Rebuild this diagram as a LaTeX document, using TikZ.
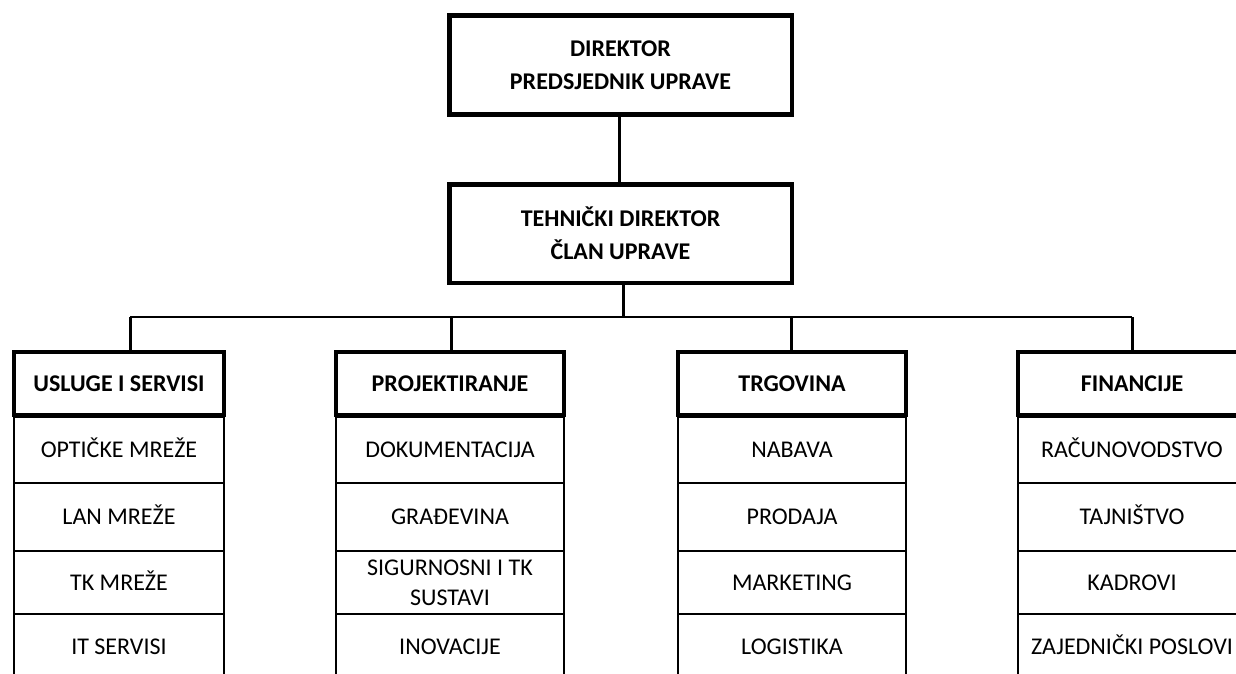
\documentclass[tikz,border=0pt]{standalone}
\usepackage{fontspec}
\setmainfont{Carlito}
\begin{document}
\begin{tikzpicture}[x=1pt,y=-1pt,
  box/.style={draw, line width=4.5pt, minimum width=342.5pt, minimum height=99pt, align=center, inner sep=0pt, font=\bfseries\fontsize{24}{33}\selectfont},
  head/.style={draw, line width=4pt, minimum height=63pt, inner sep=0pt, text height=15pt, text depth=0pt, font=\bfseries\fontsize{24}{30}\selectfont},
  cell/.style={draw, line width=1.4pt, inner sep=0pt, text height=15pt, text depth=0pt, font=\fontsize{24}{30}\selectfont},
  cellm/.style={draw, line width=1.4pt, inner sep=0pt, align=center, font=\fontsize{24}{30}\selectfont},
  conn/.style={line width=3pt},
  barline/.style={line width=2pt}]
\useasboundingbox (0,0) rectangle (1236,673);
\clip (0,0) rectangle (1236,673);
\fill[white] (0,0) rectangle (1236,673);

% top boxes
\node[box] (dir) at (620.5,65) {DIREKTOR\\PREDSJEDNIK UPRAVE};
\node[box, minimum height=98.5pt] (teh) at (620.5,233.5) {TEHNIČKI DIREKTOR\\ČLAN UPRAVE};

% column 1
\node[cell, minimum width=210pt, minimum height=66pt] (a1) at (119,450) {OPTIČKE MREŽE};
\node[cell, minimum width=210pt, minimum height=68pt] (a2) at (119,517) {LAN MREŽE};
\node[cell, minimum width=210pt, minimum height=63pt] (a3) at (119,582.5) {TK MREŽE};
\node[cell, minimum width=210pt, minimum height=66pt] (a4) at (119,647) {IT SERVISI};
\node[head, minimum width=210pt] (h1) at (119,383.5) {USLUGE I SERVISI};

% column 2
\node[cell, minimum width=228pt, minimum height=66pt] (p1) at (450,450) {DOKUMENTACIJA};
\node[cell, minimum width=228pt, minimum height=68pt] (p2) at (450,517) {GRAĐEVINA};
\node[cellm, minimum width=228pt, minimum height=63pt] (p3) at (450,582.5) {SIGURNOSNI I TK\\SUSTAVI};
\node[cell, minimum width=228pt, minimum height=66pt] (p4) at (450,647) {INOVACIJE};
\node[head, minimum width=228pt] (h2) at (450,383.5) {PROJEKTIRANJE};

% column 3
\node[cell, minimum width=228pt, minimum height=66pt] (t1) at (792,450) {NABAVA};
\node[cell, minimum width=228pt, minimum height=68pt] (t2) at (792,517) {PRODAJA};
\node[cell, minimum width=228pt, minimum height=63pt] (t3) at (792,582.5) {MARKETING};
\node[cell, minimum width=228pt, minimum height=66pt] (t4) at (792,647) {LOGISTIKA};
\node[head, minimum width=228pt] (h3) at (792,383.5) {TRGOVINA};

% column 4
\node[cell, minimum width=228pt, minimum height=66pt] (f1) at (1132,450) {RAČUNOVODSTVO};
\node[cell, minimum width=228pt, minimum height=68pt] (f2) at (1132,517) {TAJNIŠTVO};
\node[cell, minimum width=228pt, minimum height=63pt] (f3) at (1132,582.5) {KADROVI};
\node[cell, minimum width=228pt, minimum height=66pt] (f4) at (1132,647) {ZAJEDNIČKI POSLOVI};
\node[head, minimum width=228pt] (h4) at (1132,383.5) {FINANCIJE};

% connectors
\coordinate (bm) at (623,317);
\coordinate (b1) at (130,317);
\coordinate (b2) at (451,317);
\coordinate (b3) at (791,317);
\coordinate (b4) at (1132,317);
\draw[conn] (dir.south -| 619,0) -- (teh.north -| 619,0);
\draw[conn] (bm |- teh.south) -- (bm);
\draw[barline] (b1) -- (b4);
\draw[conn] (b1) -- (b1 |- h1.north);
\draw[conn] (b2) -- (b2 |- h2.north);
\draw[conn] (b3) -- (b3 |- h3.north);
\draw[conn] (b4) -- (b4 |- h4.north);
\end{tikzpicture}
\end{document}
